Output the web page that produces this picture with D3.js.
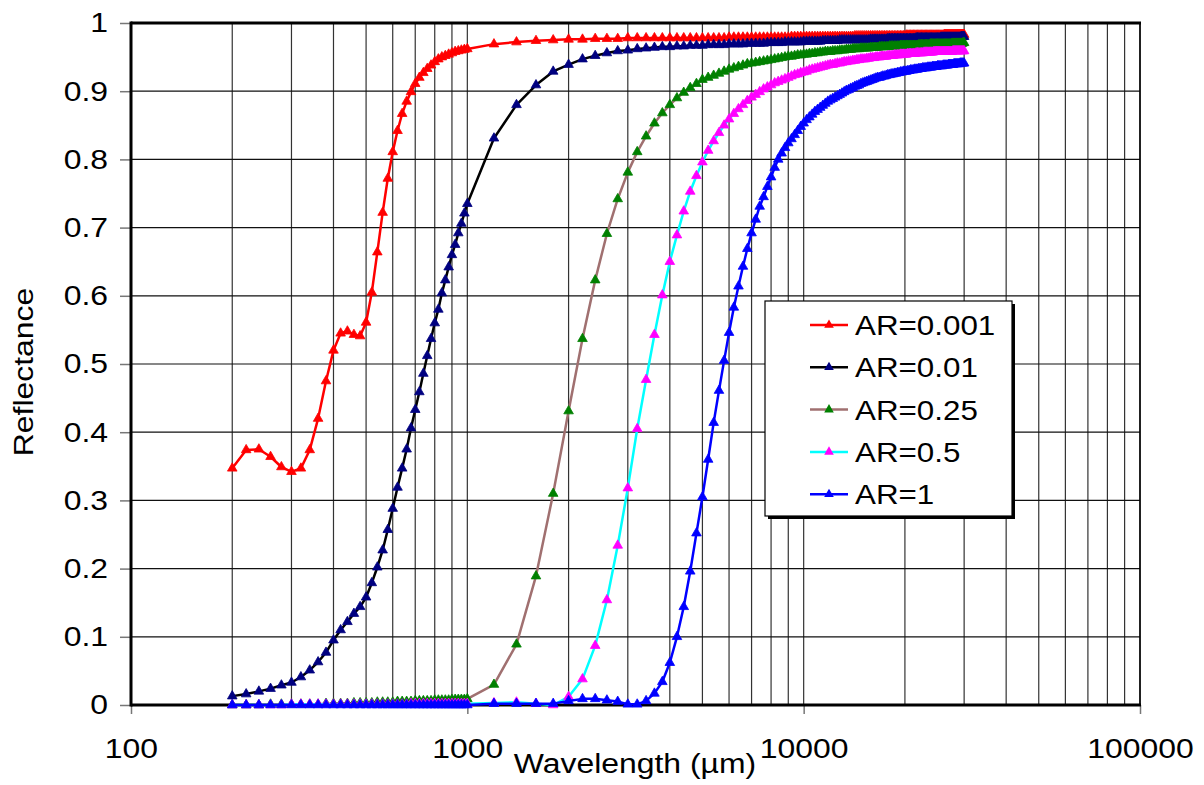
<!DOCTYPE html>
<meta charset="utf-8">
<head>
<style>
  body { margin: 0; background: #fff; }
  svg text { font-family: "Liberation Sans", Arial, sans-serif; fill: #000; }
  .tick-label { font-size: 28px; }
  .axis-title { font-size: 28px; }
  .legend-label { font-size: 28px; }
</style>
<script src="https://d3js.org/d3.v7.min.js"></script>
</head>
<body>
<svg width="1204" height="785"></svg>
<script>
// wavelengths (µm) shared by every series
var wavelengths = [
  200,220,240,260,280,300,320,340,360,380,
  400,420,440,460,480,500,520,540,560,580,
  600,620,640,660,680,700,720,740,760,780,
  800,820,840,860,880,900,920,940,960,980,
  1000,
  1200,1400,1600,1800,2000,2200,2400,2600,2800,3000,
  3200,3400,3600,3800,4000,4200,4400,4600,4800,5000,
  5200,5400,5600,5800,6000,6200,6400,6600,6800,7000,
  7200,7400,7600,7800,8000,8200,8400,8600,8800,9000,
  9200,9400,9600,9800,10000,10200,10400,10600,10800,11000,
  11200,11400,11600,11800,12000,12200,12400,12600,12800,13000,
  13200,13400,13600,13800,14000,14200,14400,14600,14800,15000,
  15200,15400,15600,15800,16000,16200,16400,16600,16800,17000,
  17200,17400,17600,17800,18000,18200,18400,18600,18800,19000,
  19200,19400,19600,19800,20000,20200,20400,20600,20800,21000,
  21200,21400,21600,21800,22000,22200,22400,22600,22800,23000,
  23200,23400,23600,23800,24000,24200,24400,24600,24800,25000,
  25200,25400,25600,25800,26000,26200,26400,26600,26800,27000,
  27200,27400,27600,27800,28000,28200,28400,28600,28800,29000,
  29200,29400,29600,29800,30000
];

var seriesNames = ["AR=0.001", "AR=0.01", "AR=0.25", "AR=0.5", "AR=1"];

var refl_ar0001 = [
  .347,.374,.375,.364,.349,.342,.347,.374,.420,.475,
  .520,.545,.548,.543,.541,.561,.605,.664,.722,.772,
  .811,.842,.867,.885,.899,.911,.920,.927,.933,.938,
  .943,.947,.950,.952,.954,.956,.958,.959,.960,.961,
  .962,
  .969,.972,.974,.975,.976,.976,.977,.977,.977,.978,
  .978,.978,.978,.978,.978,.978,.978,.978,.978,.978,
  .978,.978,.978,.978,.979,.979,.979,.979,.979,.979,
  .979,.979,.979,.979,.979,.979,.979,.979,.979,.979,
  .980,.980,.980,.980,.980,.980,.980,.980,.980,.980,
  .980,.980,.980,.980,.980,.980,.980,.980,.980,.980,
  .980,.980,.980,.980,.980,.981,.981,.981,.981,.981,
  .981,.981,.981,.981,.981,.981,.981,.981,.981,.981,
  .981,.981,.981,.981,.981,.981,.981,.981,.981,.981,
  .981,.981,.981,.981,.981,.982,.982,.982,.982,.982,
  .982,.982,.982,.982,.982,.982,.982,.982,.982,.982,
  .982,.982,.982,.982,.982,.982,.982,.982,.982,.982,
  .982,.982,.982,.982,.982,.983,.983,.983,.983,.983,
  .983,.983,.983,.983,.983,.983,.983,.983,.983,.983,
  .983,.983,.983,.983,.983
];

var refl_ar001 = [
  .013,.016,.020,.024,.029,.033,.041,.051,.063,.077,
  .095,.110,.122,.134,.144,.158,.179,.202,.227,.257,
  .288,.319,.347,.375,.406,.433,.459,.486,.512,.537,
  .560,.580,.604,.623,.642,.660,.675,.692,.706,.721,
  .735,
  .831,.880,.909,.929,.939,.947,.952,.956,.959,.960,
  .962,.963,.964,.965,.965,.966,.966,.967,.967,.967,
  .968,.968,.968,.968,.969,.969,.969,.969,.970,.970,
  .970,.970,.970,.971,.971,.971,.971,.971,.972,.972,
  .972,.972,.972,.972,.973,.973,.973,.973,.973,.973,
  .973,.974,.974,.974,.974,.974,.974,.974,.975,.975,
  .975,.975,.975,.975,.975,.975,.975,.975,.975,.975,
  .975,.975,.975,.976,.976,.976,.976,.976,.976,.976,
  .976,.976,.976,.977,.977,.977,.977,.977,.977,.977,
  .977,.977,.977,.977,.977,.977,.977,.977,.977,.977,
  .977,.977,.978,.978,.978,.978,.978,.978,.978,.978,
  .978,.978,.978,.978,.978,.978,.978,.978,.978,.978,
  .978,.978,.979,.979,.979,.979,.979,.979,.979,.979,
  .979,.979,.979,.979,.979,.979,.979,.979,.979,.979,
  .979,.980,.980,.980,.980
];

var refl_ar025 = [
  .000,.000,.000,.001,.001,.001,.001,.001,.001,.002,
  .002,.002,.002,.003,.003,.003,.003,.004,.004,.004,
  .004,.005,.005,.005,.005,.006,.006,.006,.006,.006,
  .007,.007,.007,.007,.007,.008,.008,.008,.008,.008,
  .009,
  .030,.089,.189,.310,.431,.537,.623,.691,.742,.781,
  .811,.834,.853,.868,.880,.890,.898,.905,.911,.917,
  .920,.923,.926,.929,.932,.934,.936,.938,.940,.941,
  .942,.943,.944,.945,.946,.947,.948,.949,.950,.951,
  .951,.952,.953,.953,.954,.954,.955,.955,.956,.956,
  .957,.957,.958,.958,.958,.959,.959,.959,.960,.960,
  .960,.961,.961,.961,.962,.962,.962,.962,.963,.963,
  .963,.963,.963,.964,.964,.964,.964,.964,.965,.965,
  .965,.965,.965,.965,.966,.966,.966,.966,.966,.966,
  .966,.967,.967,.967,.967,.967,.967,.967,.967,.967,
  .967,.967,.967,.967,.968,.968,.968,.968,.968,.968,
  .968,.968,.968,.969,.969,.969,.969,.969,.969,.969,
  .969,.969,.969,.969,.969,.969,.969,.969,.969,.969,
  .969,.969,.970,.970,.970,.970,.970,.970,.970,.970,
  .970,.970,.970,.971,.971
];

var refl_ar05 = [
  .000,.000,.000,.000,.000,.001,.001,.001,.001,.001,
  .001,.001,.001,.001,.001,.001,.001,.001,.001,.001,
  .001,.001,.001,.001,.002,.002,.002,.002,.002,.002,
  .002,.002,.002,.002,.002,.002,.002,.002,.002,.002,
  .002,
  .003,.004,.002,.000,.012,.038,.087,.154,.234,.318,
  .405,.477,.543,.601,.650,.689,.724,.753,.776,.796,
  .813,.827,.839,.850,.859,.867,.874,.880,.886,.891,
  .895,.899,.903,.906,.909,.912,.914,.916,.918,.920,
  .922,.924,.925,.927,.928,.929,.931,.932,.933,.934,
  .935,.936,.937,.938,.939,.939,.940,.941,.941,.942,
  .943,.943,.944,.944,.945,.945,.946,.946,.947,.947,
  .947,.948,.948,.949,.949,.949,.950,.950,.950,.951,
  .951,.951,.951,.952,.952,.952,.952,.953,.953,.953,
  .953,.954,.954,.954,.954,.954,.955,.955,.955,.955,
  .955,.955,.956,.956,.956,.956,.956,.956,.957,.957,
  .957,.957,.957,.957,.957,.957,.958,.958,.958,.958,
  .958,.958,.958,.958,.958,.958,.958,.958,.958,.958,
  .958,.958,.958,.959,.959,.959,.959,.959,.959,.959,
  .959,.959,.959,.959,.959
];

var refl_ar1 = [
  .000,.000,.000,.000,.000,.000,.000,.000,.000,.000,
  .000,.000,.000,.000,.000,.000,.000,.000,.000,.000,
  .000,.000,.000,.000,.000,.000,.000,.000,.000,.000,
  .000,.000,.000,.000,.000,.000,.000,.000,.000,.000,
  .000,
  .002,.002,.002,.002,.006,.009,.009,.007,.005,.001,
  .001,.006,.017,.034,.062,.100,.144,.196,.252,.305,
  .360,.414,.461,.505,.546,.583,.614,.643,.669,.692,
  .712,.731,.745,.760,.774,.788,.800,.809,.817,.824,
  .830,.836,.842,.848,.853,.858,.862,.866,.870,.873,
  .876,.879,.882,.885,.887,.889,.891,.893,.895,.897,
  .899,.901,.902,.904,.905,.907,.908,.909,.911,.912,
  .913,.914,.915,.916,.917,.918,.919,.920,.920,.921,
  .922,.922,.923,.924,.924,.925,.925,.926,.926,.927,
  .927,.928,.928,.929,.929,.929,.930,.930,.931,.931,
  .931,.932,.932,.932,.933,.933,.933,.934,.934,.934,
  .934,.935,.935,.935,.935,.936,.936,.936,.936,.937,
  .937,.937,.937,.937,.938,.938,.938,.938,.938,.939,
  .939,.939,.939,.939,.940,.940,.940,.940,.940,.940,
  .941,.941,.941,.941,.941
];

var xTickValues = [100, 1000, 10000, 100000];
var xTickLabels = ["100", "1000", "10000", "100000"];
var yTickValues = [0, 0.1, 0.2, 0.3, 0.4, 0.5, 0.6, 0.7, 0.8, 0.9, 1];
var yTickLabels = ["0", "0.1", "0.2", "0.3", "0.4", "0.5", "0.6", "0.7", "0.8", "0.9", "1"];

// styles (kept apart from the data)
var lineColors   = ["#ff0000", "#000000", "#a07070", "#00ffff", "#0000ff"];
var markerColors = ["#ff0000", "#000080", "#008000", "#ff00ff", "#0000ff"];
var textStretch = 1.14;   // the original picture is a bit wider than tall

var series = [refl_ar0001, refl_ar001, refl_ar025, refl_ar05, refl_ar1].map(function(vals, i) {
  return {
    name: seriesNames[i],
    points: wavelengths.map(function(w, j) { return {w: w, r: vals[j]}; })
  };
});

// widen text horizontally around its anchor x
function stretch(sel, s) {
  sel.each(function() {
    var t = d3.select(this);
    var x0 = +t.attr("x") || 0;
    var prev = t.attr("transform") || "";
    t.attr("transform", prev + " translate(" + (x0 * (1 - s)) + ",0) scale(" + s + ",1)");
  });
}

var svg = d3.select("svg");
var plot = {left: 131, right: 1140, top: 23, bottom: 705};

var x = d3.scaleLog().domain([100, 100000]).range([plot.left, plot.right]);
var y = d3.scaleLinear().domain([0, 1]).range([plot.bottom, plot.top]);

// grid
svg.append("g")
  .selectAll("line")
  .data(x.ticks())
  .enter().append("line")
    .attr("x1", d => x(d)).attr("x2", d => x(d))
    .attr("y1", plot.top).attr("y2", plot.bottom)
    .attr("stroke", "#333").attr("stroke-width", 1.2);

svg.append("g")
  .selectAll("line")
  .data(yTickValues)
  .enter().append("line")
    .attr("x1", plot.left).attr("x2", plot.right)
    .attr("y1", d => y(d)).attr("y2", d => y(d))
    .attr("stroke", "#111").attr("stroke-width", 1.2);

// y axis with outside ticks
var yAxis = d3.axisLeft(y)
  .tickValues(yTickValues)
  .tickSize(11)
  .tickPadding(12)
  .tickFormat((d, i) => yTickLabels[i]);
var gy = svg.append("g")
  .attr("transform", "translate(" + plot.left + ",0)")
  .call(yAxis);
gy.select(".domain").remove();
gy.selectAll(".tick line").attr("stroke", "#777").attr("stroke-width", 1.5);
gy.selectAll(".tick text").attr("class", "tick-label").attr("font-size", null).attr("font-family", null)
  .call(stretch, textStretch);

// x axis
var xAxis = d3.axisBottom(x)
  .tickValues(xTickValues)
  .tickSize(9)
  .tickPadding(24)
  .tickFormat((d, i) => xTickLabels[i]);
var gx = svg.append("g")
  .attr("transform", "translate(0," + plot.bottom + ")")
  .call(xAxis);
gx.select(".domain").remove();
gx.selectAll(".tick line").attr("stroke", "#777").attr("stroke-width", 1.5);
gx.selectAll(".tick text").attr("class", "tick-label").attr("font-size", null).attr("font-family", null)
  .call(stretch, textStretch);

// plot frame
svg.append("line").attr("x1", plot.left).attr("x2", plot.right + 1)
  .attr("y1", plot.top).attr("y2", plot.top).attr("stroke", "#000").attr("stroke-width", 3);
svg.append("line").attr("x1", plot.left).attr("x2", plot.right + 1)
  .attr("y1", plot.bottom).attr("y2", plot.bottom).attr("stroke", "#000").attr("stroke-width", 3);
svg.append("line").attr("x1", plot.left).attr("x2", plot.left)
  .attr("y1", plot.top - 1.5).attr("y2", plot.bottom + 1.5).attr("stroke", "#000").attr("stroke-width", 3);
svg.append("line").attr("x1", plot.right).attr("x2", plot.right)
  .attr("y1", plot.top).attr("y2", plot.bottom).attr("stroke", "#000").attr("stroke-width", 1.5);

// series
var line = d3.line().x(d => x(d.w)).y(d => y(d.r));
var tri = d3.symbol().type(d3.symbolTriangle).size(40);

series.forEach(function(s, i) {
  var g = svg.append("g");
  g.append("path")
    .datum(s.points)
    .attr("d", line)
    .attr("fill", "none")
    .attr("stroke", lineColors[i])
    .attr("stroke-width", 2.5)
    .attr("stroke-linejoin", "round");
  g.selectAll("path.mk")
    .data(s.points)
    .enter().append("path")
      .attr("class", "mk")
      .attr("d", tri)
      .attr("transform", d => "translate(" + x(d.w) + "," + y(d.r) + ")")
      .attr("fill", markerColors[i])
      .attr("stroke", markerColors[i])
      .attr("stroke-width", 0.8);
});

// axis titles
svg.append("text")
  .attr("class", "axis-title")
  .attr("x", 635).attr("y", 773)
  .attr("text-anchor", "middle")
  .text("Wavelength (µm)")
  .call(stretch, textStretch);

svg.append("text")
  .attr("class", "axis-title")
  .attr("transform", "translate(33,372) rotate(-90)")
  .attr("text-anchor", "middle")
  .text("Reflectance")
  .call(stretch, textStretch);

// legend
var lg = svg.append("g").attr("transform", "translate(765,301)");
lg.append("rect").attr("x", 3).attr("y", 3).attr("width", 247).attr("height", 215).attr("fill", "#000");
lg.append("rect").attr("width", 247).attr("height", 215)
  .attr("fill", "#fff").attr("stroke", "#000").attr("stroke-width", 1.2);

var rows = lg.selectAll("g.row")
  .data(series)
  .enter().append("g")
    .attr("class", "row")
    .attr("transform", (d, i) => "translate(0," + (24 + i * 42.3) + ")");
rows.append("line")
  .attr("x1", 45).attr("x2", 83)
  .attr("stroke", (d, i) => lineColors[i]).attr("stroke-width", 2.5);
rows.append("path")
  .attr("d", tri)
  .attr("transform", "translate(64,0)")
  .attr("fill", (d, i) => markerColors[i]);
rows.append("text")
  .attr("class", "legend-label")
  .attr("x", 90)
  .attr("dy", "0.36em")
  .text(d => d.name)
  .call(stretch, 1.12);
</script>
</body>
